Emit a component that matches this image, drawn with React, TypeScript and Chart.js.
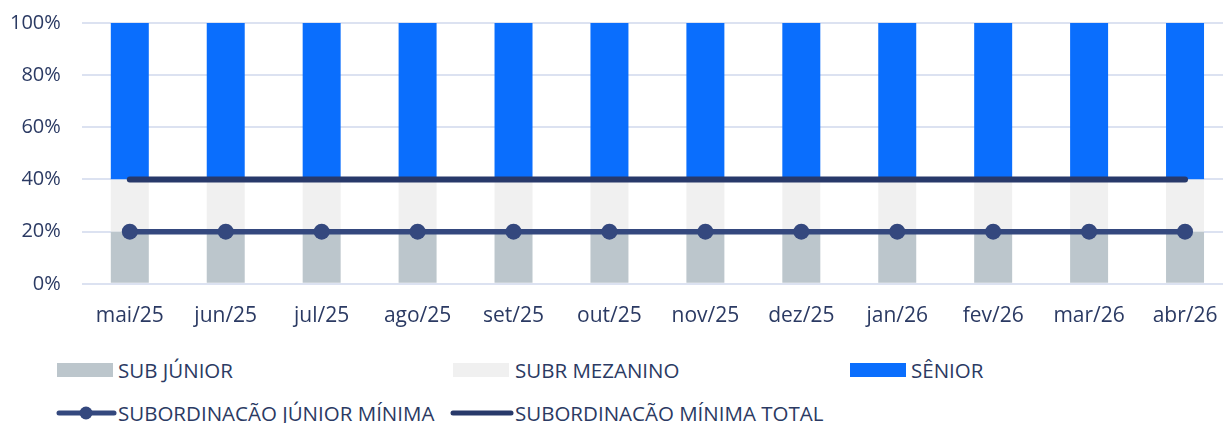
import React, { useEffect, useRef } from "react";
import { Chart, registerables } from "chart.js";

Chart.register(...registerables);

const months = ["mai/25", "jun/25", "jul/25", "ago/25", "set/25", "out/25", "nov/25", "dez/25", "jan/26", "fev/26", "mar/26", "abr/26"];
const subJunior = [20, 20, 20, 20, 20, 20, 20, 20, 20, 20, 20, 20];
const subrMezanino = [20, 20, 20, 20, 20, 20, 20, 20, 20, 20, 20, 20];
const senior = [60, 60, 60, 60, 60, 60, 60, 60, 60, 60, 60, 60];
const subJuniorMin = [20, 20, 20, 20, 20, 20, 20, 20, 20, 20, 20, 20];
const subMinTotal = [40, 40, 40, 40, 40, 40, 40, 40, 40, 40, 40, 40];
const yTicks = [0, 20, 40, 60, 80, 100];

const TEXT = "#2b3a63";
const FONT = "'Open Sans', sans-serif";
const C_JUN = "#bcc6cc";
const C_MEZ = "#f0f0f0";
const C_SEN = "#0a6efd";
const C_LINE1 = "#34487e";
const C_LINE2 = "#28396a";

export default function App() {
  const ref = useRef<HTMLCanvasElement>(null);
  useEffect(() => {
    if (!ref.current) return;
    const chart = new Chart(ref.current, {
      type: "bar",
      data: {
        labels: months,
        datasets: [
          {
            type: "line",
            label: "SUBORDINACÃO JÚNIOR MÍNIMA",
            data: subJuniorMin,
            borderColor: C_LINE1,
            backgroundColor: C_LINE1,
            borderWidth: 5.5,
            pointRadius: 8,
            pointBorderWidth: 0,
            pointBackgroundColor: C_LINE1,
            stack: "l1",
            order: 0,
            borderCapStyle: "round",
          } as any,
          {
            type: "line",
            label: "SUBORDINACÃO MÍNIMA TOTAL",
            data: subMinTotal,
            borderColor: C_LINE2,
            backgroundColor: C_LINE2,
            borderWidth: 6,
            pointRadius: 0,
            stack: "l2",
            order: 1,
            borderCapStyle: "round",
          } as any,
          { label: "SUB JÚNIOR", data: subJunior, backgroundColor: C_JUN, stack: "b", order: 2 },
          { label: "SUBR MEZANINO", data: subrMezanino, backgroundColor: C_MEZ, stack: "b", order: 2 },
          { label: "SÊNIOR", data: senior, backgroundColor: C_SEN, stack: "b", order: 2 },
        ],
      },
      options: {
        animation: false,
        responsive: false,
        maintainAspectRatio: false,
        layout: { autoPadding: false, padding: { left: 10, top: 23, right: 2, bottom: 1 } },
        plugins: { legend: { display: false }, tooltip: { enabled: false } },
        datasets: { bar: { barPercentage: 0.396, categoryPercentage: 1 } },
        scales: {
          x: {
            stacked: true,
            grid: { display: true, drawOnChartArea: false, drawTicks: true, tickLength: 20, tickColor: "rgba(0,0,0,0)", color: "rgba(0,0,0,0)" },
            border: { display: false },
            ticks: { color: TEXT, font: { family: FONT, size: 21 }, padding: 0, maxRotation: 0, autoSkip: false },
          },
          y: {
            stacked: true,
            min: 0,
            max: 100,
            afterBuildTicks: (s: any) => { s.ticks = yTicks.map((v) => ({ value: v })); },
            grid: { color: "#dce2f1", lineWidth: 2, drawTicks: true, tickLength: 21, tickColor: "rgba(0,0,0,0)" },
            border: { display: false },
            ticks: { color: TEXT, font: { family: FONT, size: 20 }, padding: 0, callback: (v: any) => v + "%" },
          },
        },
      } as any,
    });
    return () => chart.destroy();
  }, []);

  const txt: React.CSSProperties = { position: "absolute", fontFamily: FONT, fontSize: 20.5, color: TEXT, lineHeight: "24px", whiteSpace: "nowrap" };
  const rect = (x: number, y: number, c: string) => (
    <div style={{ position: "absolute", left: x, top: y, width: 56, height: 14, background: c }} />
  );

  return (
    <div style={{ position: "absolute", left: 0, top: 0, width: 1223, height: 423, overflow: "hidden", background: "#fff" }}>
      <canvas ref={ref} width={1235} height={330} style={{ position: "absolute", left: 0, top: 0, width: 1235, height: 330 }} />
      {rect(57, 363, C_JUN)}
      <span style={{ ...txt, left: 118, top: 358 }}>SUB JÚNIOR</span>
      {rect(453, 363, C_MEZ)}
      <span style={{ ...txt, left: 515, top: 358 }}>SUBR MEZANINO</span>
      {rect(850, 363, C_SEN)}
      <span style={{ ...txt, left: 911, top: 358 }}>SÊNIOR</span>
      <svg style={{ position: "absolute", left: 50, top: 403 }} width={80} height={20}>
        <line x1={9} y1={10} x2={64} y2={10} stroke={C_LINE1} strokeWidth={5} strokeLinecap="round" />
        <circle cx={36} cy={10} r={6.5} fill={C_LINE1} />
      </svg>
      <span style={{ ...txt, left: 118, top: 401 }}>SUBORDINACÃO JÚNIOR MÍNIMA</span>
      <svg style={{ position: "absolute", left: 445, top: 403 }} width={80} height={20}>
        <line x1={8} y1={10} x2={66} y2={10} stroke={C_LINE2} strokeWidth={5} strokeLinecap="round" />
      </svg>
      <span style={{ ...txt, left: 515, top: 401 }}>SUBORDINACÃO MÍNIMA TOTAL</span>
    </div>
  );
}
